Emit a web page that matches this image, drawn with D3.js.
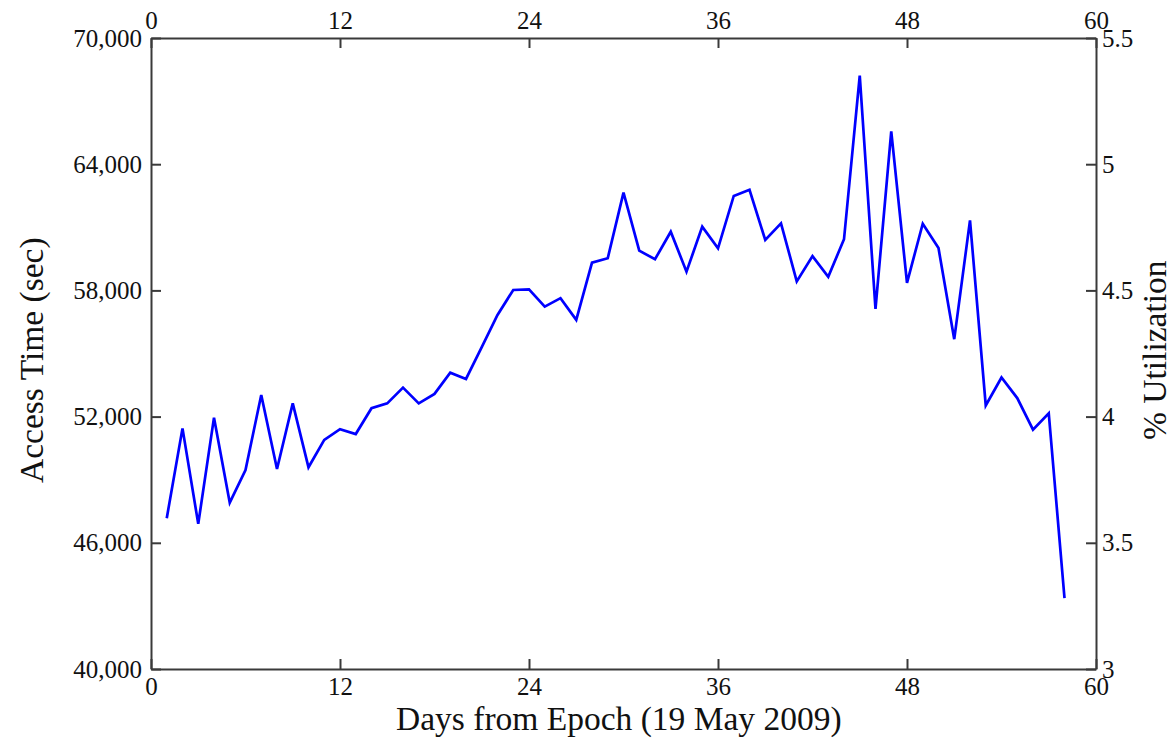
<!DOCTYPE html>
<html>
<head>
<meta charset="utf-8">
<script src="https://cdn.jsdelivr.net/npm/d3@7"></script>
<style>
  html, body { margin: 0; padding: 0; background: #fff; }
  svg { display: block; }
  .axis text { font-family: "Liberation Serif", "Times New Roman", serif; font-size: 25px; fill: #111; }
  .axis path, .axis line { stroke: #3a3a3a; stroke-width: 2; }
  .title { font-family: "Liberation Serif", "Times New Roman", serif; font-size: 33.5px; fill: #111; }
</style>
</head>
<body>
<svg id="chart" width="1174" height="738"></svg>
<script>
// Days elapsed since the epoch date
const days = [
   1,  2,  3,  4,  5,  6,  7,  8,  9, 10,
  11, 12, 13, 14, 15, 16, 17, 18, 19, 20,
  21, 22, 23, 24, 25, 26, 27, 28, 29, 30,
  31, 32, 33, 34, 35, 36, 37, 38, 39, 40,
  41, 42, 43, 44, 45, 46, 47, 48, 49, 50,
  51, 52, 53, 54, 55, 56, 57, 58
];

// Daily total access time in seconds
const accessTime = [
  47170, 51440, 46900, 51950, 47910, 49460, 53030, 49510, 52630, 49590,
  50890, 51400, 51170, 52400, 52630, 53380, 52630, 53080, 54090, 53790,
  55300, 56830, 58020, 58050, 57230, 57630, 56600, 59320, 59530, 62650,
  59890, 59480, 60790, 58890, 61030, 60000, 62490, 62780, 60400, 61190,
  58430, 59630, 58650, 60430, 68210, 57120, 65560, 58360, 61170, 60010,
  55680, 61330, 52530, 53860, 52880, 51380, 52160, 43370
];

// Tick values for the four axes
const dayTicks = [0, 12, 24, 36, 48, 60];
const timeTicks = [40000, 46000, 52000, 58000, 64000, 70000];
const utilTicks = [3, 3.5, 4, 4.5, 5, 5.5];

const svg = d3.select("#chart");
const plotLeft = 151, plotRight = 1096, plotTop = 38, plotBottom = 669;

const x = d3.scaleLinear().domain([0, 60]).range([plotLeft, plotRight]);
const y = d3.scaleLinear().domain([40000, 70000]).range([plotBottom, plotTop]);
const yUtil = d3.scaleLinear().domain([3, 5.5]).range([plotBottom, plotTop]);

const fmt = d3.format(",");

svg.append("g").attr("class", "axis")
  .attr("transform", `translate(0,${plotBottom})`)
  .call(d3.axisBottom(x).tickValues(dayTicks).tickSizeInner(-10).tickSizeOuter(0).tickPadding(8).tickFormat(d3.format("d")));

svg.append("g").attr("class", "axis")
  .attr("transform", `translate(0,${plotTop})`)
  .call(d3.axisTop(x).tickValues(dayTicks).tickSizeInner(-10).tickSizeOuter(0).tickPadding(9).tickFormat(d3.format("d")));

svg.append("g").attr("class", "axis")
  .attr("transform", `translate(${plotLeft},0)`)
  .call(d3.axisLeft(y).tickValues(timeTicks).tickSizeInner(-10).tickSizeOuter(0).tickPadding(9).tickFormat(fmt));

svg.append("g").attr("class", "axis")
  .attr("transform", `translate(${plotRight},0)`)
  .call(d3.axisRight(yUtil).tickValues(utilTicks).tickSizeInner(-10).tickSizeOuter(0).tickPadding(6).tickFormat(d => String(d)));

// Access-time series
const line = d3.line()
  .x((d, i) => x(days[i]))
  .y(d => y(d));

svg.append("path")
  .datum(accessTime)
  .attr("fill", "none")
  .attr("stroke", "#0000ff")
  .attr("stroke-width", 2.7)
  .attr("stroke-linejoin", "miter")
  .attr("d", line);

// Axis titles
svg.append("text").attr("class", "title")
  .attr("x", 396).attr("y", 730)
  .attr("text-anchor", "start")
  .text("Days from Epoch (19 May 2009)");

svg.append("text").attr("class", "title")
  .attr("transform", "translate(43,483) rotate(-90)")
  .attr("text-anchor", "start")
  .text("Access Time (sec)");

svg.append("text").attr("class", "title")
  .attr("transform", "translate(1166,440) rotate(-90)")
  .attr("text-anchor", "start")
  .text("% Utilization");
</script>
</body>
</html>
